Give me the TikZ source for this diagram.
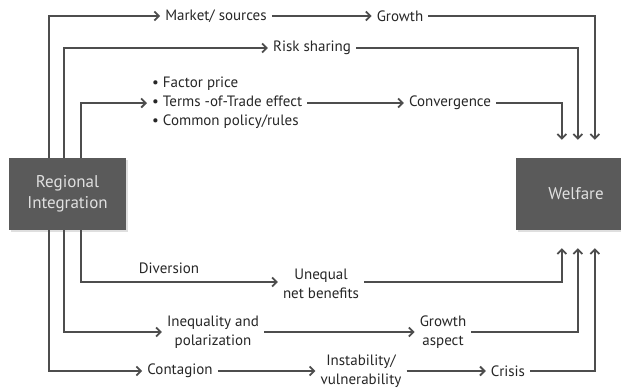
\documentclass[tikz,border=0pt]{standalone}
\usepackage{fontspec}
\setmainfont{PT Sans}
\usetikzlibrary{arrows.meta,shadows}
\definecolor{boxgray}{HTML}{5A5A5A}
\definecolor{linegray}{HTML}{4D4D4D}
\definecolor{txtgray}{HTML}{262626}
\tikzset{
    block/.style={fill=boxgray, text=black!12, font=\fontsize{17}{21}\selectfont,
        align=center, inner sep=0pt,
        drop shadow={opacity=0.25, shadow xshift=2pt, shadow yshift=-2pt}},
    label/.style={text=txtgray, font=\fontsize{15}{19}\selectfont, align=center, inner sep=5pt},
    link/.style={draw=linegray, line width=2.2pt, -{Straight Barb[length=4.5pt,width=9pt,line width=1.8pt]}},
}
\begin{document}
\begin{tikzpicture}[x=1pt,y=-1pt]
        \useasboundingbox (0,0) rectangle (621,389);
        %% boxes (welfare runs past the right edge)
        \node[block, minimum width=117pt, minimum height=72pt] (ri) at (67.5,194) {Regional\\Integration};
        \node[block, minimum width=120pt, minimum height=72pt] (wf) at (576,194) {Welfare};
        %% upper channels
        \node[label] (market) at (216,16) {Market/ sources};
        \node[label] (growth) at (400,16) {Growth};
        \node[label] (risk) at (312,48) {Risk sharing};
        \node[label, align=left, anchor=west] (factors) at (147,103)
            {• Factor price\\ • Terms -of-Trade effect\\ • Common policy/rules};
        \node[label] (conv) at (450,103) {Convergence};
        %% lower channels
        \node[label] (diversion) at (169,268) {Diversion};
        \node[label] (uneq) at (321,284) {Unequal\\net benefits};
        \node[label] (ineq) at (213,332) {Inequality and\\polarization};
        \node[label] (gasp) at (443,332) {Growth\\aspect};
        \node[label] (contag) at (180,371) {Contagion};
        \node[label] (instab) at (361,371) {Instability/\\vulnerability};
        \node[label] (crisis) at (508,371) {Crisis};
        %% from regional integration
        \draw[link] ([xshift=40pt]ri.north west) |- (market.west);
        \draw[link] ([xshift=55pt]ri.north west) |- (risk.west);
        \draw[link] ([xshift=72pt]ri.north west) |- (factors.west);
        \draw[link] ([xshift=72pt]ri.south west) |- (uneq.west |- 0,282);
        \draw[link] ([xshift=55pt]ri.south west) |- (ineq.west);
        \draw[link] ([xshift=40pt]ri.south west) |- (contag.west);
        %% middle steps
        \draw[link] (market) -- (growth);
        \draw[link] (factors) -- (conv);
        \draw[link] (ineq) -- (gasp);
        \draw[link] (contag) -- (instab);
        \draw[link] (instab) -- (crisis);
        %% into welfare
        \draw[link] (growth.east) -| ([xshift=79pt,yshift=18pt]wf.north west);
        \draw[link] (risk.east) -| ([xshift=62pt,yshift=18pt]wf.north west);
        \draw[link] (conv.east) -| ([xshift=46pt,yshift=18pt]wf.north west);
        \draw[link] (uneq.east |- 0,282) -| ([xshift=46pt,yshift=-18pt]wf.south west);
        \draw[link] (gasp.east) -| ([xshift=62pt,yshift=-18pt]wf.south west);
        \draw[link] (crisis.east) -| ([xshift=79pt,yshift=-18pt]wf.south west);
    \end{tikzpicture}
\end{document}
